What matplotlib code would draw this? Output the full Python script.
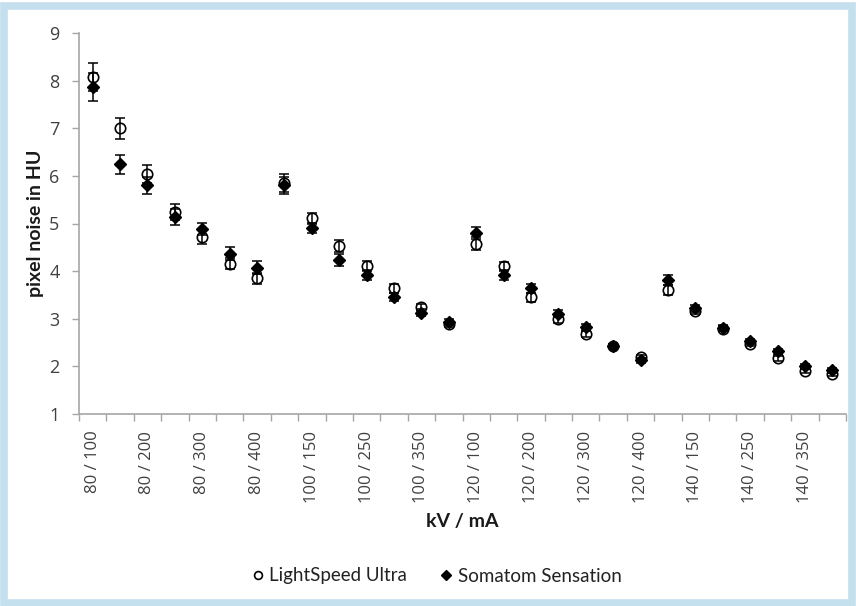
import matplotlib
matplotlib.use("Agg")
import matplotlib.pyplot as plt
from matplotlib.patches import Rectangle
import numpy as np

# kV / mA settings (28 categories, every other one labelled)
categories = [
    "80 / 100", "80 / 150", "80 / 200", "80 / 250", "80 / 300", "80 / 350", "80 / 400",
    "100 / 100", "100 / 150", "100 / 200", "100 / 250", "100 / 300", "100 / 350", "100 / 400",
    "120 / 100", "120 / 150", "120 / 200", "120 / 250", "120 / 300", "120 / 350", "120 / 400",
    "140 / 100", "140 / 150", "140 / 200", "140 / 250", "140 / 300", "140 / 350", "140 / 400",
]

# pixel noise in HU
lightspeed = [8.08, 7.00, 6.04, 5.24, 4.71, 4.16, 3.85,
              5.85, 5.11, 4.53, 4.11, 3.64, 3.24, 2.88,
              4.58, 4.10, 3.45, 2.99, 2.68, 2.43, 2.19,
              3.60, 3.16, 2.79, 2.47, 2.17, 1.91, 1.83]
lightspeed_err = [0.30, 0.22, 0.18, 0.16, 0.15, 0.12, 0.12,
                  0.18, 0.12, 0.12, 0.11, 0.09, 0.07, 0.06,
                  0.14, 0.10, 0.09, 0.08, 0.07, 0.05, 0.05,
                  0.10, 0.07, 0.05, 0.05, 0.05, 0.04, 0.04]

somatom = [7.87, 6.24, 5.80, 5.13, 4.88, 4.37, 4.07,
           5.80, 4.91, 4.23, 3.92, 3.46, 3.13, 2.93,
           4.80, 3.92, 3.64, 3.11, 2.83, 2.43, 2.13,
           3.81, 3.22, 2.81, 2.53, 2.32, 2.00, 1.92]
somatom_err = [0.30, 0.20, 0.18, 0.17, 0.13, 0.13, 0.14,
               0.18, 0.11, 0.13, 0.10, 0.08, 0.07, 0.06,
               0.13, 0.11, 0.10, 0.07, 0.06, 0.05, 0.05,
               0.10, 0.07, 0.05, 0.05, 0.05, 0.04, 0.04]

axis_grey = "#a6a6a6"
text_grey = "#404040"
frame_blue = "#c4e0ef"

fig = plt.figure(figsize=(8.56, 6.06), dpi=100)
ax = fig.add_axes([79 / 856, 1 - 414 / 606, 767 / 856, 381 / 606])

x = np.arange(len(categories))

# markers first, error bars on top so the line shows through the open circles
ax.plot(x, lightspeed, "o", ms=7.5, mfc="white", mec="black", mew=1.2,
        zorder=2, label="LightSpeed Ultra")
ax.plot(x, somatom, "D", ms=6.2, mfc="black", mec="black",
        zorder=3, label="Somatom Sensation")
ax.errorbar(x, lightspeed, yerr=lightspeed_err, fmt="none", ecolor="black",
            elinewidth=1.1, capsize=3.5, capthick=1.1, zorder=4)
ax.errorbar(x, somatom, yerr=somatom_err, fmt="none", ecolor="black",
            elinewidth=1.1, capsize=3.5, capthick=1.1, zorder=4)

ax.set_xlim(-0.5, len(categories) - 0.5)
ax.set_ylim(1, 9)
ax.set_yticks(range(1, 10))

# tick marks on the category borders, labels on every other centre
ax.set_xticks(np.arange(len(categories) + 1) - 0.5)
ax.set_xticklabels([])
ax.set_xticks(x[::2], minor=True)
ax.set_xticklabels(categories[::2], minor=True, rotation=90)
ax.tick_params(axis="x", which="major", length=5, width=1, color=axis_grey, direction="out")
ax.tick_params(axis="x", which="minor", length=0, pad=12, labelsize=12,
               labelcolor=text_grey)
ax.tick_params(axis="y", length=5, width=1, color=axis_grey, direction="out",
               pad=9, labelsize=13, labelcolor=text_grey)
for lbl in ax.get_yticklabels() + ax.get_xticklabels(minor=True):
    lbl.set_family("Open Sans")

for side in ["top", "right"]:
    ax.spines[side].set_visible(False)
for side in ["left", "bottom"]:
    ax.spines[side].set_color(axis_grey)
    ax.spines[side].set_linewidth(1.2)

label_font = dict(family="Lato", weight="bold", fontsize=14, color="#1a1a1a")
fig.text(36 / 856, 1 - 223 / 606, "pixel noise in HU", rotation=90,
         ha="center", va="center", **label_font)
fig.text(462 / 856, 1 - 522 / 606, "kV / mA", ha="center", va="center", **label_font)

fig.legend(loc="center", bbox_to_anchor=(435 / 856, 1 - 576 / 606), ncol=2,
           frameon=False, handletextpad=0.1, columnspacing=1.6, handlelength=1.0,
           markerscale=0.75, labelcolor="#222222",
           prop={"family": "Lato", "size": 13.5})

# light blue frame around the whole figure
fig.patches.append(Rectangle((4 / 856, 3 / 606), 848 / 856, 597 / 606,
                             transform=fig.transFigure, fill=False,
                             edgecolor=frame_blue, linewidth=5.5, zorder=0))

fig.savefig("out.png", dpi=100, facecolor="white")
